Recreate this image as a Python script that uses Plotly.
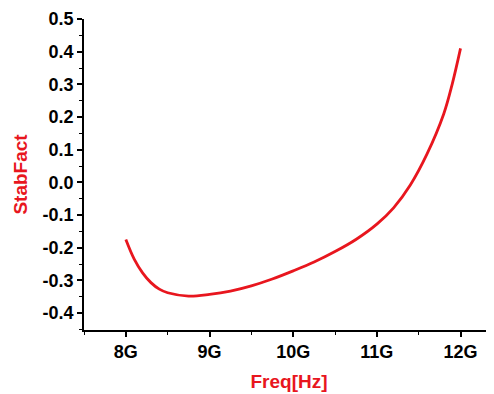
import plotly.graph_objects as go

freq_ghz = [8.0, 8.1, 8.2, 8.3, 8.4, 8.5, 8.75, 9.0, 9.25, 9.5, 9.75, 10.0,
            10.25, 10.5, 10.75, 11.0, 11.2, 11.4, 11.6, 11.8, 11.9, 12.0]
stab_fact = [-0.175, -0.235, -0.277, -0.307, -0.327, -0.338, -0.348, -0.343,
             -0.333, -0.317, -0.296, -0.271, -0.244, -0.212, -0.175, -0.128,
             -0.078, -0.008, 0.087, 0.21, 0.30, 0.41]
x_tickvals = [8, 9, 10, 11, 12]
x_ticktext = ["8G", "9G", "10G", "11G", "12G"]
y_tickvals = [-0.4, -0.3, -0.2, -0.1, 0.0, 0.1, 0.2, 0.3, 0.4, 0.5]
y_ticktext = ["-0.4", "-0.3", "-0.2", "-0.1", "0.0", "0.1", "0.2", "0.3", "0.4", "0.5"]

RED = "rgb(232,22,30)"
FONT = "Liberation Sans, Arial, sans-serif"

fig = go.Figure(go.Scatter(
    x=freq_ghz, y=stab_fact, mode="lines",
    line=dict(color=RED, width=2.8, shape="spline", smoothing=1.0),
))

axis_common = dict(
    showline=True, linecolor="black", linewidth=1.5,
    ticks="outside", ticklen=5, tickwidth=1.5, tickcolor="black",
    showgrid=False, zeroline=False,
    tickfont=dict(family=FONT, size=18, color="black", weight="bold"),
)

fig.update_layout(
    width=486, height=386,
    margin=dict(l=76, r=0, t=11, b=64),
    paper_bgcolor="white", plot_bgcolor="white",
    showlegend=False,
    xaxis=dict(
        range=[7.5, 12.4], tickvals=x_tickvals, ticktext=x_ticktext,
        minor=dict(ticks="outside", ticklen=3, tickwidth=1.2, tickcolor="black",
                   tick0=7.5, dtick=0.5),
        title=dict(text="Freq[Hz]", standoff=13,
                   font=dict(family=FONT, size=19, color=RED, weight="bold")),
        automargin=False,
        **axis_common,
    ),
    yaxis=dict(
        range=[-0.452, 0.5], tickvals=y_tickvals, ticktext=y_ticktext,
        minor=dict(ticks="outside", ticklen=3, tickwidth=1.2, tickcolor="black",
                   tick0=0.05, dtick=0.1),
        title=dict(text="StabFact", standoff=10,
                   font=dict(family=FONT, size=19, color=RED, weight="bold")),
        automargin=False,
        **axis_common,
    ),
)

fig.write_html("out.html")
